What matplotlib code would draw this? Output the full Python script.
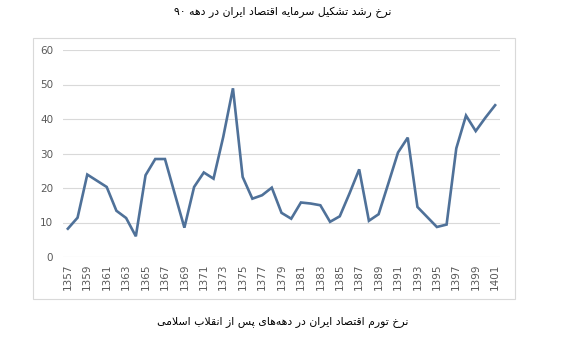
import matplotlib
matplotlib.use("Agg")
import matplotlib.pyplot as plt
from matplotlib.patches import Rectangle

years = [str(y) for y in range(1357, 1402)]
values = [8.2, 11.4, 23.9, 22.1, 20.3, 13.4, 11.3, 6.0, 23.7, 28.4,
          28.4, 18.4, 8.5, 20.3, 24.5, 22.7, 34.8, 48.9, 23.2, 16.9,
          17.9, 20.1, 12.8, 11.1, 15.8, 15.5, 15.0, 10.2, 11.8, 18.4,
          25.4, 10.5, 12.4, 21.3, 30.3, 34.6, 14.5, 11.6, 8.7, 9.4,
          31.5, 41.0, 36.5, 40.4, 44.0]
title_top = "نرخ رشد تشکیل سرمایه اقتصاد ایران در دهه ۹۰"
title_bottom = "نرخ تورم اقتصاد ایران در دهه‌های پس از انقلاب اسلامی"

# isolated, final, initial, medial presentation forms
FORMS = {
    'ا': ('\uFE8D', '\uFE8E', None, None),
    'ب': ('\uFE8F', '\uFE90', '\uFE91', '\uFE92'),
    'پ': ('\uFB56', '\uFB57', '\uFB58', '\uFB59'),
    'ت': ('\uFE95', '\uFE96', '\uFE97', '\uFE98'),
    'خ': ('\uFEA5', '\uFEA6', '\uFEA7', '\uFEA8'),
    'د': ('\uFEA9', '\uFEAA', None, None),
    'ر': ('\uFEAD', '\uFEAE', None, None),
    'ز': ('\uFEAF', '\uFEB0', None, None),
    'س': ('\uFEB1', '\uFEB2', '\uFEB3', '\uFEB4'),
    'ش': ('\uFEB5', '\uFEB6', '\uFEB7', '\uFEB8'),
    'ص': ('\uFEB9', '\uFEBA', '\uFEBB', '\uFEBC'),
    'ق': ('\uFED5', '\uFED6', '\uFED7', '\uFED8'),
    'ک': ('\uFB8E', '\uFB8F', '\uFB90', '\uFB91'),
    'ل': ('\uFEDD', '\uFEDE', '\uFEDF', '\uFEE0'),
    'م': ('\uFEE1', '\uFEE2', '\uFEE3', '\uFEE4'),
    'ن': ('\uFEE5', '\uFEE6', '\uFEE7', '\uFEE8'),
    'ه': ('\uFEE9', '\uFEEA', '\uFEEB', '\uFEEC'),
    'و': ('\uFEED', '\uFEEE', None, None),
    'ی': ('\uFBFC', '\uFBFD', '\uFBFE', '\uFBFF'),
}


def shape(text):
    # minimal persian shaping + visual reorder for matplotlib
    out = []
    i = 0
    n = len(text)
    while i < n:
        c = text[i]
        if c not in FORMS:
            if c != '\u200c':
                out.append(c)
            i += 1
            continue
        prev = text[i - 1] if i > 0 else None
        jp = prev in FORMS and FORMS[prev][2] is not None
        if c == 'ل' and i + 1 < n and text[i + 1] == 'ا':
            out.append('\uFEFC' if jp else '\uFEFB')
            i += 2
            continue
        nxt = text[i + 1] if i + 1 < n else None
        jn = FORMS[c][2] is not None and nxt in FORMS
        iso, fin, ini, med = FORMS[c]
        if jp and jn:
            out.append(med)
        elif jp:
            out.append(fin)
        elif jn:
            out.append(ini)
        else:
            out.append(iso)
        i += 1
    s = ''.join(out)[::-1]
    # keep digit runs left-to-right
    res, run = '', ''
    for ch in s:
        if ch.isdigit():
            run += ch
        else:
            res += run[::-1] + ch
            run = ''
    return res + run[::-1]


W, H = 566, 338
fig = plt.figure(figsize=(W / 100, H / 100), dpi=100)
fig.patch.set_facecolor('white')

fig.patches.append(Rectangle((33 / W, 1 - 299 / H), (515 - 33) / W, (299 - 38) / H,
                             transform=fig.transFigure, fill=False,
                             edgecolor='#d9d9d9', lw=0.8))

ax = fig.add_axes([63 / W, 1 - 257 / H, (500 - 63) / W, (257 - 50) / H])
x = list(range(len(years)))
ax.plot(x, values, color='#4f7199', lw=1.9, solid_joinstyle='miter')
ax.set_xlim(-0.5, len(years) - 0.5)
ax.set_ylim(0, 60)
ax.set_yticks(range(0, 61, 10))
ax.grid(axis='y', color='#d9d9d9', lw=0.8)
ax.set_axisbelow(True)
for sp in ax.spines.values():
    sp.set_visible(False)
ax.set_xticks(x[::2])
ax.set_xticklabels(years[::2], rotation=90)
ax.tick_params(axis='both', length=0, labelsize=7.5, labelcolor='#595959')
ax.tick_params(axis='x', pad=5)
ax.tick_params(axis='y', pad=7)

fig.text(0.5, 1 - 12 / H, shape(title_top), ha='center', va='center',
         fontsize=7.8, family=['DejaVu Sans'], color='black')
fig.text(0.5, 1 - 322 / H, shape(title_bottom), ha='center', va='center',
         fontsize=7.8, family=['DejaVu Sans'], color='black')

fig.savefig('out.png', dpi=100)
